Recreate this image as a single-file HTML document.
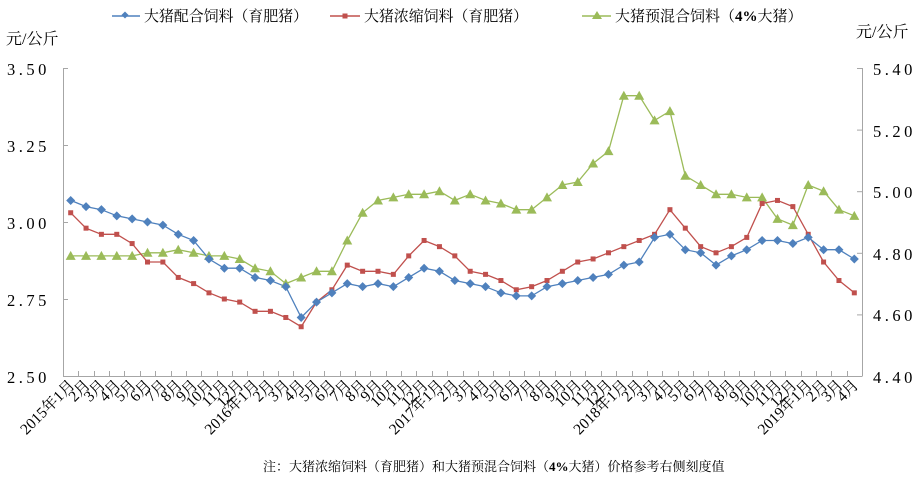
<!DOCTYPE html>
<html><head><meta charset="utf-8"><style>
html,body{margin:0;padding:0;background:#fff;}
svg text{font-family:"Liberation Serif","Noto Serif CJK SC",serif;fill:#000;}
</style></head><body>
<svg id="c" width="924" height="481" xmlns="http://www.w3.org/2000/svg">
<g stroke="#a6a6a6" stroke-width="1" fill="none">
<line x1="63.5" y1="68" x2="63.5" y2="376.5"/>
<line x1="862.5" y1="68" x2="862.5" y2="376.5"/>
<line x1="63" y1="376.5" x2="862" y2="376.5"/>
</g>
<g id="ticks" stroke="#a6a6a6" stroke-width="1"></g>
<g font-size="16">
<text x="6" y="44">元/公斤</text>
<text x="856" y="37">元/公斤</text>
</g>
<g font-size="16.5" letter-spacing="3.5">
<text x="7" y="75">3.50</text>
<text x="7" y="152">3.25</text>
<text x="7" y="229">3.00</text>
<text x="7" y="306">2.75</text>
<text x="7" y="383">2.50</text>
<text x="873" y="75">5.40</text>
<text x="873" y="137">5.20</text>
<text x="873" y="198">5.00</text>
<text x="873" y="260">4.80</text>
<text x="873" y="321">4.60</text>
<text x="873" y="383">4.40</text>
</g>
<g id="xl" font-size="15.5"></g>
<g id="series"></g>
<g font-size="15">
<line x1="112" y1="16" x2="140" y2="16" stroke="#4f81bd" stroke-width="1.5"/>
<rect x="122.5" y="12.5" width="5" height="5" transform="rotate(45 125 15)" fill="#4f81bd"/>
<text x="144" y="21" textLength="164">大猪配合饲料（育肥猪）</text>
<line x1="330" y1="16" x2="360" y2="16" stroke="#c0504d" stroke-width="1.5"/>
<rect x="342.5" y="13.5" width="5" height="5" fill="#c0504d"/>
<text x="364" y="21" textLength="164">大猪浓缩饲料（育肥猪）</text>
<line x1="582" y1="16" x2="611" y2="16" stroke="#9bbb59" stroke-width="1.5"/>
<polygon points="597,11 602,19 592,19" fill="#9bbb59"/>
<text x="615" y="21">大猪预混合饲料（<tspan font-weight="bold">4%</tspan>大猪）</text>
</g>
<text x="263" y="471" font-size="13">注：大猪浓缩饲料（育肥猪）和大猪预混合饲料（<tspan font-weight="bold">4%</tspan>大猪）价格参考右侧刻度值</text>
</svg>
<script>
var blue=[3.07,3.05,3.04,3.02,3.01,3.00,2.99,2.96,2.94,2.88,2.85,2.85,2.82,2.81,2.79,2.69,2.74,2.77,2.80,2.79,2.80,2.79,2.82,2.85,2.84,2.81,2.80,2.79,2.77,2.76,2.76,2.79,2.80,2.81,2.82,2.83,2.86,2.87,2.95,2.96,2.91,2.90,2.86,2.89,2.91,2.94,2.94,2.93,2.95,2.91,2.91,2.88];
var red=[3.03,2.98,2.96,2.96,2.93,2.87,2.87,2.82,2.80,2.77,2.75,2.74,2.71,2.71,2.69,2.66,2.74,2.78,2.86,2.84,2.84,2.83,2.89,2.94,2.92,2.89,2.84,2.83,2.81,2.78,2.79,2.81,2.84,2.87,2.88,2.90,2.92,2.94,2.96,3.04,2.98,2.92,2.90,2.92,2.95,3.06,3.07,3.05,2.96,2.87,2.81,2.77];
var green=[4.79,4.79,4.79,4.79,4.79,4.80,4.80,4.81,4.80,4.79,4.79,4.78,4.75,4.74,4.70,4.72,4.74,4.74,4.84,4.93,4.97,4.98,4.99,4.99,5.00,4.97,4.99,4.97,4.96,4.94,4.94,4.98,5.02,5.03,5.09,5.13,5.31,5.31,5.23,5.26,5.05,5.02,4.99,4.99,4.98,4.98,4.91,4.89,5.02,5.00,4.94,4.92];
var L=63,W=799,n=52,w=W/n,T=68,H=308,NS="http://www.w3.org/2000/svg";
function X(i){return L+w*(i+0.5);}
function YL(v){return T+(3.5-v)/1.0*H;}
function YR(v){return T+(5.4-v)/1.0*H;}
function el(t,a,p){var e=document.createElementNS(NS,t);for(var k in a)e.setAttribute(k,a[k]);p.appendChild(e);return e;}
var tk=document.getElementById('ticks');
for(var i=0;i<=n;i++){var x=Math.round(L+w*i)+0.5;el('line',{x1:x,y1:371,x2:x,y2:376},tk);}
[68,145,222,299].forEach(function(y){el('line',{x1:63,y1:y+0.5,x2:68,y2:y+0.5},tk);});
[68,129.6,191.2,252.8,314.4].forEach(function(y){el('line',{x1:857,y1:y+0.5,x2:862,y2:y+0.5},tk);});
var xl=document.getElementById('xl');
for(var i=0;i<n;i++){var y=2015+Math.floor(i/12),m=i%12+1;var s=(m==1?y+'年':'')+m+'月';
var x=X(i)+5,yy=386;var t=el('text',{x:x,y:yy,'text-anchor':'end',transform:'rotate(-45 '+x+' '+yy+')'},xl);t.textContent=s;}
var g=document.getElementById('series');
function line(d,f,c){var p=d.map(function(v,i){return X(i).toFixed(1)+','+f(v).toFixed(1);}).join(' ');el('polyline',{points:p,fill:'none',stroke:c,'stroke-width':1.3},g);}
line(green,YR,'#9bbb59');line(red,YL,'#c0504d');line(blue,YL,'#4f81bd');
green.forEach(function(v,i){var x=X(i),y=YR(v);el('polygon',{points:x+','+(y-5)+' '+(x+5)+','+(y+4)+' '+(x-5)+','+(y+4),fill:'#9bbb59'},g);});
red.forEach(function(v,i){el('rect',{x:X(i)-2.5,y:YL(v)-2.5,width:5,height:5,fill:'#c0504d'},g);});
blue.forEach(function(v,i){var x=X(i),y=YL(v);el('polygon',{points:x+','+(y-4.5)+' '+(x+4.5)+','+y+' '+x+','+(y+4.5)+' '+(x-4.5)+','+y,fill:'#4f81bd'},g);});
</script>
</body></html>
